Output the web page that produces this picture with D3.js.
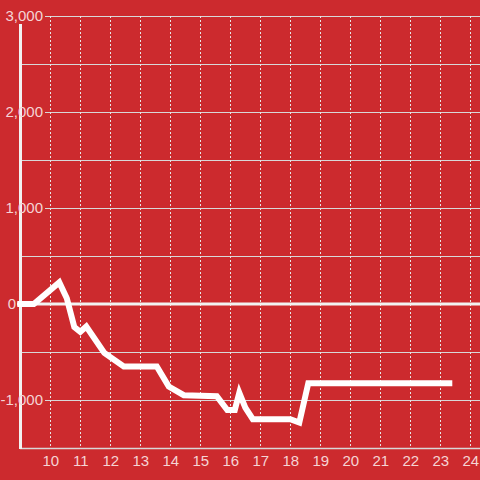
<!DOCTYPE html>
<html>
<head>
<meta charset="utf-8">
<script src="https://cdn.jsdelivr.net/npm/d3@7"></script>
<style>
body{margin:0;background:#cc2a2e;}
svg{display:block;}
</style>
</head>
<body>
<div id="chart"></div>
<script>
var width = 480, height = 480
var bg = "#cc2a2e"
var font = "'Liberation Sans', Arial, sans-serif"

// data
var xVals = [8.9, 9.45, 10.3, 10.55, 10.8, 11.0, 11.2, 11.8, 12.45, 13.55, 13.95, 14.45, 15.55, 15.9, 16.15, 16.3, 16.5, 16.75, 18.0, 18.3, 18.6, 23.4]
var yVals = [0, 0, 225, 60, -240, -290, -235, -510, -650, -650, -860, -950, -960, -1105, -1105, -925, -1080, -1200, -1200, -1235, -825, -825]
var xTicks = [10, 11, 12, 13, 14, 15, 16, 17, 18, 19, 20, 21, 22, 23, 24]
var yGrid = [3000, 2500, 2000, 1500, 1000, 500, -500, -1000]
var yLabels = [3000, 2000, 1000, 0, -1000]

var x = d3.scaleLinear().domain([9, 24]).range([20.3, 470.3])
var y = d3.scaleLinear().domain([-1500, 3000]).range([448, 16])

var svg = d3.select("#chart").append("svg")
  .attr("width", width).attr("height", height)

svg.append("rect").attr("width", width).attr("height", height).attr("fill", bg)

//horizontal grid (labelled ones start right of the label)
svg.selectAll(".hgrid").data(yGrid).enter().append("line")
  .attr("x1", d => yLabels.includes(d) ? 45 : 21).attr("x2", width)
  .attr("y1", d => Math.round(y(d)) + 0.5).attr("y2", d => Math.round(y(d)) + 0.5)
  .attr("stroke", "#d8d8d8").attr("stroke-width", 1)

//vertical dashed grid
svg.selectAll(".vgrid").data(xTicks).enter().append("line")
  .attr("x1", d => Math.round(x(d)) + 0.5).attr("x2", d => Math.round(x(d)) + 0.5)
  .attr("y1", y(3000)).attr("y2", y(-1500))
  .attr("stroke", "#e6e6e6").attr("stroke-width", 1)
  .attr("stroke-dasharray", "2,2")

//bottom axis
svg.append("line").attr("x1", 20).attr("x2", width)
  .attr("y1", y(-1500) + 0.5).attr("y2", y(-1500) + 0.5)
  .attr("stroke", "#d8d8d8").attr("stroke-width", 1.5)

//zero line
svg.append("line").attr("x1", 17).attr("x2", width)
  .attr("y1", y(0)).attr("y2", y(0))
  .attr("stroke", "#f2f2f2").attr("stroke-width", 3)

//left axis
svg.append("line").attr("x1", 20.5).attr("x2", 20.5)
  .attr("y1", 24).attr("y2", y(-1500) + 1)
  .attr("stroke", "#f2f2f2").attr("stroke-width", 3)

//y labels
svg.selectAll(".ylab").data(yLabels).enter().append("text")
  .attr("x", d => d === 0 ? 16 : 43).attr("y", d => y(d)).attr("dy", "0.35em")
  .attr("text-anchor", "end")
  .style("font-family", font).style("font-size", "15px")
  .attr("fill", "#f5d4d5")
  .text(d => d3.format(",")(d).replace("−", "-"))

//x labels
svg.selectAll(".xlab").data(xTicks).enter().append("text")
  .attr("x", d => x(d) + 0.5).attr("y", 461).attr("dy", "0.35em")
  .attr("text-anchor", "middle")
  .style("font-family", font).style("font-size", "15px")
  .attr("fill", "#f5d4d5")
  .text(d => d)

//data line
var pts = xVals.map((v, i) => [v, yVals[i]])
svg.append("path").datum(pts)
  .attr("d", d3.line().x(d => x(d[0])).y(d => y(d[1])))
  .attr("fill", "none").attr("stroke", "#ffffff").attr("stroke-width", 6)
  .attr("stroke-linejoin", "miter")
</script>
</body>
</html>
